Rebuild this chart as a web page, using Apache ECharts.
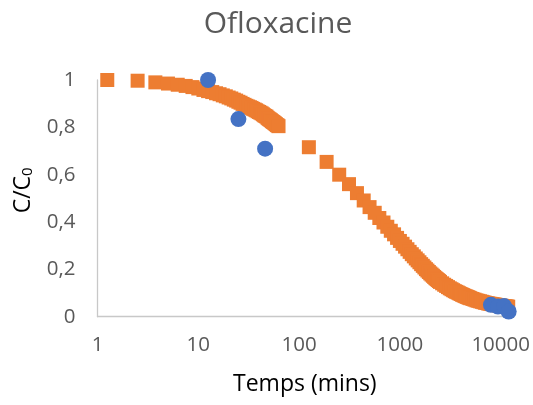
<!DOCTYPE html>
<html>
<head>
<meta charset="utf-8">
<script src="https://cdn.jsdelivr.net/npm/echarts@6/dist/echarts.min.js"></script>
<style>
html,body{margin:0;padding:0;background:#fff;}
#chart{width:533px;height:405px;}
</style>
</head>
<body>
<div id="chart"></div>
<script>
// Model (orange squares): time in minutes and C/C0
const modelTime = [
  1.25, 2.5, 3.75, 5, 6.25, 7.5, 8.75, 10, 11.25, 12.5, 13.75, 15, 16.25, 17.5, 18.75, 20, 21.25, 22.5, 23.75, 25,
  26.25, 27.5, 28.75, 30, 31.25, 32.5, 33.75, 35, 36.25, 37.5, 38.75, 40, 41.25, 42.5, 43.75, 45, 46.25, 47.5, 48.75, 50,
  51.25, 52.5, 53.75, 55, 56.25, 57.5, 58.75, 60, 61.25, 62.5,
  125, 187.5, 250, 312.5, 375, 437.5, 500, 562.5, 625, 687.5, 750, 812.5, 875, 937.5, 1000,
  1062.5, 1125, 1187.5, 1250, 1312.5, 1375, 1437.5, 1500, 1562.5, 1625, 1687.5, 1750, 1812.5, 1875, 1937.5, 2000,
  2062.5, 2125, 2187.5, 2250, 2312.5, 2375, 2437.5, 2500,
  2625, 2750, 2875, 3000, 3125, 3250, 3375, 3500, 3625, 3750, 3875, 4000, 4125, 4250, 4375, 4500, 4625, 4750, 4875, 5000,
  5250, 5500, 5750, 6000, 6250, 6500, 6750, 7000, 7250, 7500, 7750, 8000, 8250, 8500, 8750, 9000, 9250, 9500, 9750, 10000,
  10250, 10500, 10750, 11000, 11250, 11500, 11750, 11875
];
const modelC = [
  1.0, 0.997, 0.99, 0.985, 0.98, 0.975, 0.97, 0.964, 0.958, 0.953, 0.949, 0.944, 0.94, 0.935, 0.931, 0.926, 0.922, 0.917, 0.913, 0.908,
  0.904, 0.899, 0.895, 0.891, 0.888, 0.885, 0.882, 0.878, 0.875, 0.872, 0.868, 0.865, 0.862, 0.859, 0.855, 0.851, 0.848, 0.845, 0.84, 0.836,
  0.833, 0.83, 0.826, 0.823, 0.82, 0.817, 0.814, 0.81, 0.808, 0.805,
  0.716, 0.654, 0.60, 0.56, 0.522, 0.491, 0.463, 0.439, 0.417, 0.398, 0.380, 0.363, 0.348, 0.333, 0.32,
  0.308, 0.296, 0.285, 0.274, 0.264, 0.255, 0.246, 0.238, 0.23, 0.222, 0.215, 0.208, 0.201, 0.195, 0.189, 0.183,
  0.178, 0.173, 0.168, 0.163, 0.159, 0.155, 0.151, 0.147,
  0.141, 0.135, 0.13, 0.125, 0.12, 0.116, 0.112, 0.108, 0.105, 0.102, 0.099, 0.096, 0.093, 0.091, 0.088, 0.086, 0.084, 0.082, 0.08, 0.078,
  0.075, 0.072, 0.069, 0.067, 0.065, 0.063, 0.061, 0.059, 0.058, 0.056, 0.055, 0.054, 0.053, 0.052, 0.051, 0.05, 0.049, 0.048, 0.047, 0.046,
  0.046, 0.045, 0.044, 0.044, 0.043, 0.043, 0.042, 0.042
];
// Experimental (blue circles)
const expTime = [12.5, 25, 46, 8000, 9400, 10800, 12000];
const expC = [1.0, 0.835, 0.71, 0.05, 0.043, 0.045, 0.022];

const xTickLabels = ['1', '10', '100', '1000', '10000'];
const yTickLabels = ['0', '0,2', '0,4', '0,6', '0,8', '1'];

const font = 'Open Sans';
const chart = echarts.init(document.getElementById('chart'), null, {renderer: 'canvas'});
chart.setOption({
  animation: false,
  backgroundColor: '#ffffff',
  title: {
    text: 'Ofloxacine',
    left: 273,
    textAlign: 'center',
    top: 4,
    textStyle: {fontFamily: font, fontSize: 30, fontWeight: 'normal', color: '#595959'}
  },
  grid: {left: 97.5, right: 20, top: 80, bottom: 88.3, containLabel: false},
  xAxis: {
    type: 'log',
    logBase: 10,
    min: 1,
    max: 13000,
    axisLine: {show: true, lineStyle: {color: '#c8c8c8', width: 1.3}},
    axisTick: {show: false},
    splitLine: {show: false},
    axisLabel: {
      margin: 18,
      fontFamily: font, fontSize: 20.5, color: '#595959',
      showMaxLabel: false,
      formatter: function (v) {
        const i = Math.round(Math.log10(v));
        return Math.abs(Math.log10(v) - i) < 1e-6 && xTickLabels[i] !== undefined ? xTickLabels[i] : '';
      }
    },
    name: 'Temps (mins)',
    nameLocation: 'middle',
    nameGap: 56,
    nameTextStyle: {fontFamily: font, fontSize: 23, color: '#000000'}
  },
  yAxis: {
    type: 'value',
    min: 0,
    max: 1,
    interval: 0.2,
    axisLine: {show: true, lineStyle: {color: '#c8c8c8', width: 1.3}},
    axisTick: {show: false},
    splitLine: {show: false},
    axisLabel: {
      margin: 22,
      fontFamily: font, fontSize: 20.5, color: '#595959',
      formatter: function (v) { return yTickLabels[Math.round(v / 0.2)]; }
    },
    name: 'C/C{sub|0}',
    nameLocation: 'middle',
    nameRotate: 90,
    nameGap: 62,
    nameTextStyle: {
      fontFamily: font, fontSize: 23, color: '#000000',
      padding: [0, 0, 0, 16],
      rich: {sub: {fontFamily: font, fontSize: 15, color: '#000000', padding: [10, 0, 0, 0]}}
    }
  },
  series: [
    {
      type: 'scatter',
      name: 'model',
      symbol: 'rect',
      symbolSize: 14,
      itemStyle: {color: '#ED7D31', opacity: 1},
      data: modelTime.map((t, i) => [t, modelC[i]]),
      z: 2
    },
    {
      type: 'scatter',
      name: 'exp',
      symbol: 'circle',
      symbolSize: 16,
      itemStyle: {color: '#4472C4', opacity: 1},
      data: expTime.map((t, i) => [t, expC[i]]),
      z: 3
    }
  ]
});
</script>
</body>
</html>
